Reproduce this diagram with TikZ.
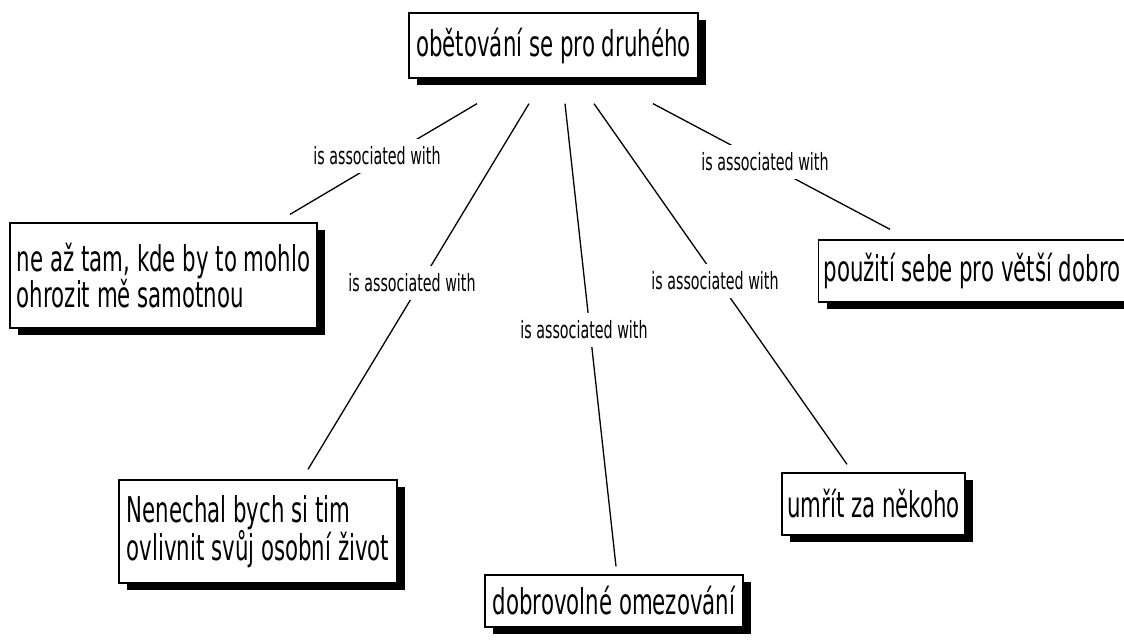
\documentclass[tikz,border=0pt]{standalone}
\usepackage{fontspec}
\setmainfont{DejaVu Sans}
\newfontfamily\conceptfont[FakeStretch=0.6]{DejaVu Sans}
\usetikzlibrary{shadows}
\begin{document}
\begin{tikzpicture}[x=1pt,y=-1pt,
  concept/.style={draw=black, line width=1.3pt, fill=white, align=left,
    inner xsep=5pt, inner ysep=0pt,
    font=\conceptfont\fontsize{35.5}{34}\selectfont,
    drop shadow={shadow xshift=8pt, shadow yshift=-7pt, fill=black, opacity=1}},
  linklabel/.style={fill=white, inner xsep=2pt, inner ysep=0pt, minimum height=34pt,
    font=\conceptfont\fontsize{23.8}{26}\selectfont},
  link/.style={draw=black, line width=1.3pt}]
\useasboundingbox (0,0) rectangle (1124,641);
\clip (0,0) rectangle (1124,641);

% concepts
\node[concept, minimum width=289pt, minimum height=65pt] (top) at (553.5,45.5) {obětování se pro druhého};
\node[concept, minimum width=307pt, minimum height=105pt] (b2) at (163.5,275.5) {ne až tam, kde by to mohlo\\ohrozit mě samotnou};
\node[concept, minimum width=278pt, minimum height=103pt] (b3) at (258,531.5) {Nenechal bych si tim\\ovlivnit svůj osobní život};
\node[concept, minimum width=258pt, minimum height=52pt] (b4) at (614,601) {dobrovolné omezování};
\node[concept, minimum height=62pt, anchor=west] (b5) at (818,271) {\makebox[320pt][l]{použití sebe pro větší dobro}};
\node[concept, minimum width=181pt, minimum height=62pt] (b6) at (873.5,504) {umřít za někoho};

% connectors
\draw[link] ([shift={(-76.5,25)}]top.south) -- ([shift={(126.5,-8)}]b2.north);
\draw[link] ([shift={(-24.5,25)}]top.south) -- ([shift={(50,-10)}]b3.north);
\draw[link] ([shift={(11.5,25)}]top.south) -- ([shift={(2,-8)}]b4.north);
\draw[link] ([shift={(40.5,25)}]top.south) -- ([shift={(-26.5,-8)}]b6.north);
\draw[link] ([shift={(99.5,25)}]top.south) -- ([shift={(72,-10)}]b5.north west);

% connector labels
\node[linklabel] (l1) at (377,156) {is associated with};
\node[linklabel] (l2) at (412,283) {is associated with};
\node[linklabel] (l3) at (584,330) {is associated with};
\node[linklabel] (l4) at (715,281) {is associated with};
\node[linklabel] (l5) at (765,161.5) {is associated with};
\end{tikzpicture}
\end{document}
